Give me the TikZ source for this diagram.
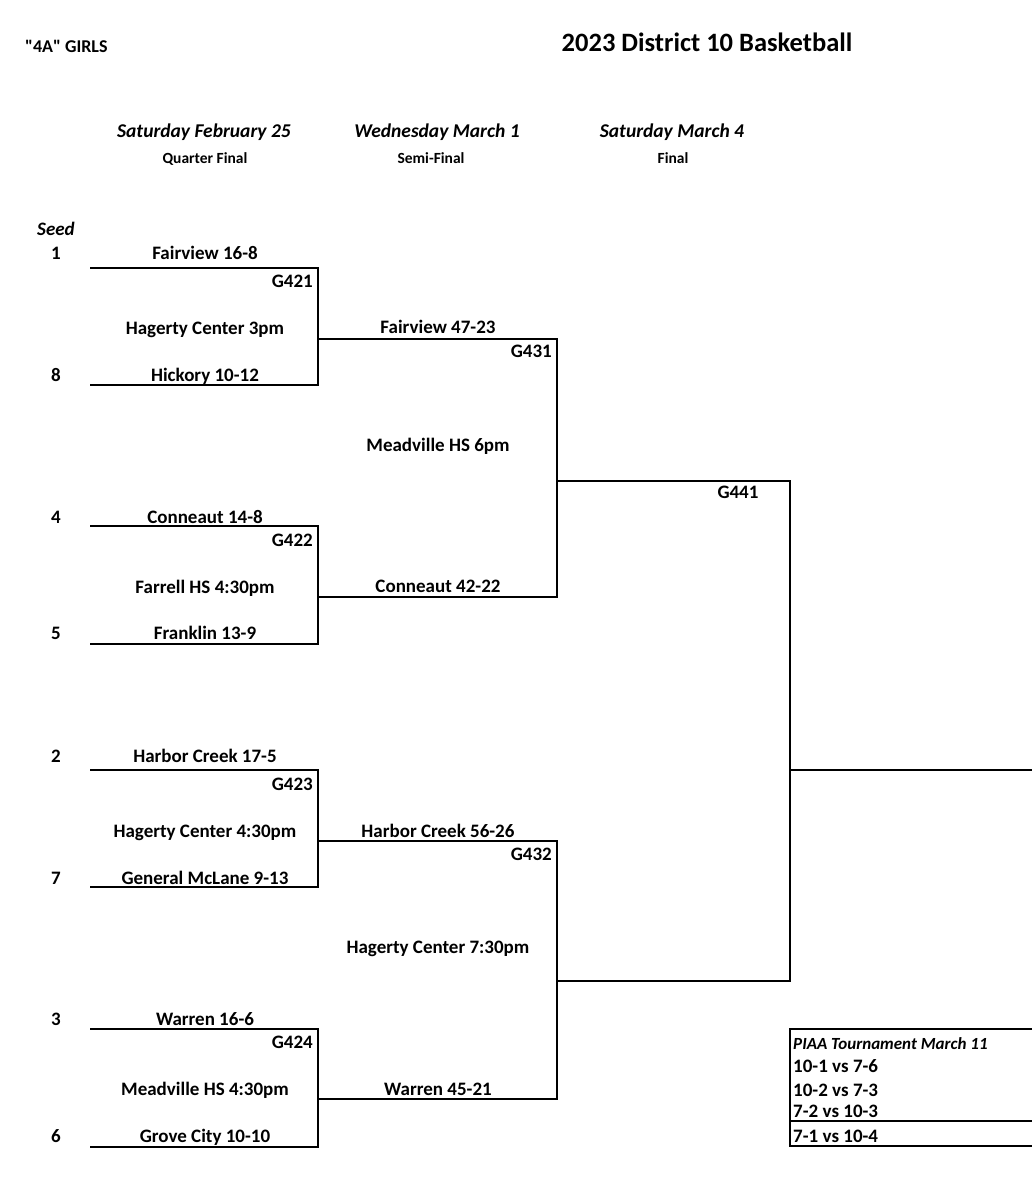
\documentclass[tikz,border=0pt]{standalone}
\usepackage{fontspec}
\setmainfont{Carlito}[Ligatures=TeXOff]
\usetikzlibrary{positioning}

\begin{document}
\begin{tikzpicture}[x=1pt,y=-1pt,font=\fontsize{19}{22}\selectfont\bfseries,
  team/.style={inner sep=0pt,text height=14pt,text depth=2pt},
  game/.style={team,anchor=east},
  hdr/.style={team,font=\fontsize{19.5}{22}\selectfont\bfseries\itshape},
  sub/.style={team,font=\fontsize{15.5}{18}\selectfont\bfseries},
  piaa/.style={team,anchor=west},
  br/.style={line width=1.6pt}]
\useasboundingbox (0,0) rectangle (1032,1200);

% titles
\node[team,anchor=west,font=\fontsize{18}{21}\selectfont\bfseries] (girls) at (25,46) {"4A" GIRLS};
\node[team,font=\fontsize{26.5}{30}\selectfont\bfseries] (title) at (707,45) {2023 District 10 Basketball};
\node[hdr] (d1) at (204,131) {Saturday February 25};
\node[sub] (r1) at (205,157) {Quarter Final};
\node[hdr] (d2) at (437,131) {Wednesday March 1};
\node[sub] (r2) at (431,157) {Semi-Final};
\node[hdr] (d3) at (672,131) {Saturday March 4};
\node[sub] (r3) at (673,157) {Final};

% seeds
\node[team,font=\fontsize{19}{22}\selectfont\bfseries\itshape] (seed) at (56,229) {Seed};
\node[team] (s1) at (56,253) {1};
\node[team] (s8) at (56,375) {8};
\node[team] (s4) at (56,517) {4};
\node[team] (s5) at (56,633) {5};
\node[team] (s2) at (56,756) {2};
\node[team] (s7) at (56,878) {7};
\node[team] (s3) at (56,1019) {3};
\node[team] (s6) at (56,1136) {6};

% quarter finals
\node[team] (t1) at (205,253) {Fairview 16-8};
\node[team] (t8) at (205,375) {Hickory 10-12};
\node[game] (g421) at (313,281) {G421};
\node[team] (v421) at (205,328) {Hagerty Center 3pm};
\node[team] (t4) at (205,517) {Conneaut 14-8};
\node[team] (t5) at (205,633) {Franklin 13-9};
\node[game] (g422) at (313,540) {G422};
\node[team] (v422) at (205,587) {Farrell HS 4:30pm};
\node[team] (t2) at (205,756) {Harbor Creek 17-5};
\node[team] (t7) at (205,878) {General McLane 9-13};
\node[game] (g423) at (313,784) {G423};
\node[team] (v423) at (205,831) {Hagerty Center 4:30pm};
\node[team] (t3) at (205,1019) {Warren 16-6};
\node[team] (t6) at (205,1136) {Grove City 10-10};
\node[game] (g424) at (313,1042) {G424};
\node[team] (v424) at (205,1089) {Meadville HS 4:30pm};

% semi finals
\node[team] (w421) at (438,327) {Fairview 47-23};
\node[team] (w422) at (438,586) {Conneaut 42-22};
\node[game] (g431) at (552,351) {G431};
\node[team] (v431) at (438,445) {Meadville HS 6pm};
\node[team] (w423) at (438,831) {Harbor Creek 56-26};
\node[team] (w424) at (438,1089) {Warren 45-21};
\node[game] (g432) at (552,854) {G432};
\node[team] (v432) at (438,947) {Hagerty Center 7:30pm};

% final
\node[team] (g441) at (738,492) {G441};

% bracket corners
\coordinate (a1) at (90,268);  \coordinate (a2) at (318,268);
\coordinate (a3) at (318,385); \coordinate (a4) at (90,385);
\coordinate (b1) at (90,526);  \coordinate (b2) at (318,526);
\coordinate (b3) at (318,644); \coordinate (b4) at (90,644);
\coordinate (c1) at (90,770);  \coordinate (c2) at (318,770);
\coordinate (c3) at (318,887); \coordinate (c4) at (90,887);
\coordinate (e1) at (90,1029); \coordinate (e2) at (318,1029);
\coordinate (e3) at (318,1147);\coordinate (e4) at (90,1147);
\coordinate (am) at (318,339); \coordinate (bm) at (318,597);
\coordinate (cm) at (318,841); \coordinate (em) at (318,1099);
\coordinate (sa) at (557,339); \coordinate (sb) at (557,597);
\coordinate (sc) at (557,841); \coordinate (se) at (557,1099);
\coordinate (fa) at (557,481); \coordinate (fb) at (790,481);
\coordinate (fc) at (790,981); \coordinate (fd) at (557,981);
\coordinate (fm) at (790,770); \coordinate (champ) at (1032,770);

\draw[br] (a1) -- (a2) -- (a3) -- (a4);
\draw[br] (b1) -- (b2) -- (b3) -- (b4);
\draw[br] (c1) -- (c2) -- (c3) -- (c4);
\draw[br] (e1) -- (e2) -- (e3) -- (e4);
\draw[br] (am) -- (sa) -- (sb) -- (bm);
\draw[br] (cm) -- (sc) -- (se) -- (em);
\draw[br] (fa) -- (fb) -- (fc) -- (fd);
\draw[br] (fm) -- (champ);

% PIAA box
\coordinate (pa) at (1032,1029); \coordinate (pb) at (790,1029);
\coordinate (pc) at (790,1146);  \coordinate (pd) at (1032,1146);
\coordinate (pe) at (790,1121);  \coordinate (pf) at (1032,1121);
\draw[br] (pa) -- (pb) -- (pc) -- (pd);
\draw[br] (pe) -- (pf);
\node[piaa,font=\fontsize{17}{20}\selectfont\bfseries\itshape] (p0) at (793,1043) {PIAA Tournament March 11};
\node[piaa] (p1) at (793,1066) {10-1 vs 7-6};
\node[piaa] (p2) at (793,1090) {10-2 vs 7-3};
\node[piaa] (p3) at (793,1111) {7-2 vs 10-3};
\node[piaa] (p4) at (793,1136) {7-1 vs 10-4};
\end{tikzpicture}
\end{document}
